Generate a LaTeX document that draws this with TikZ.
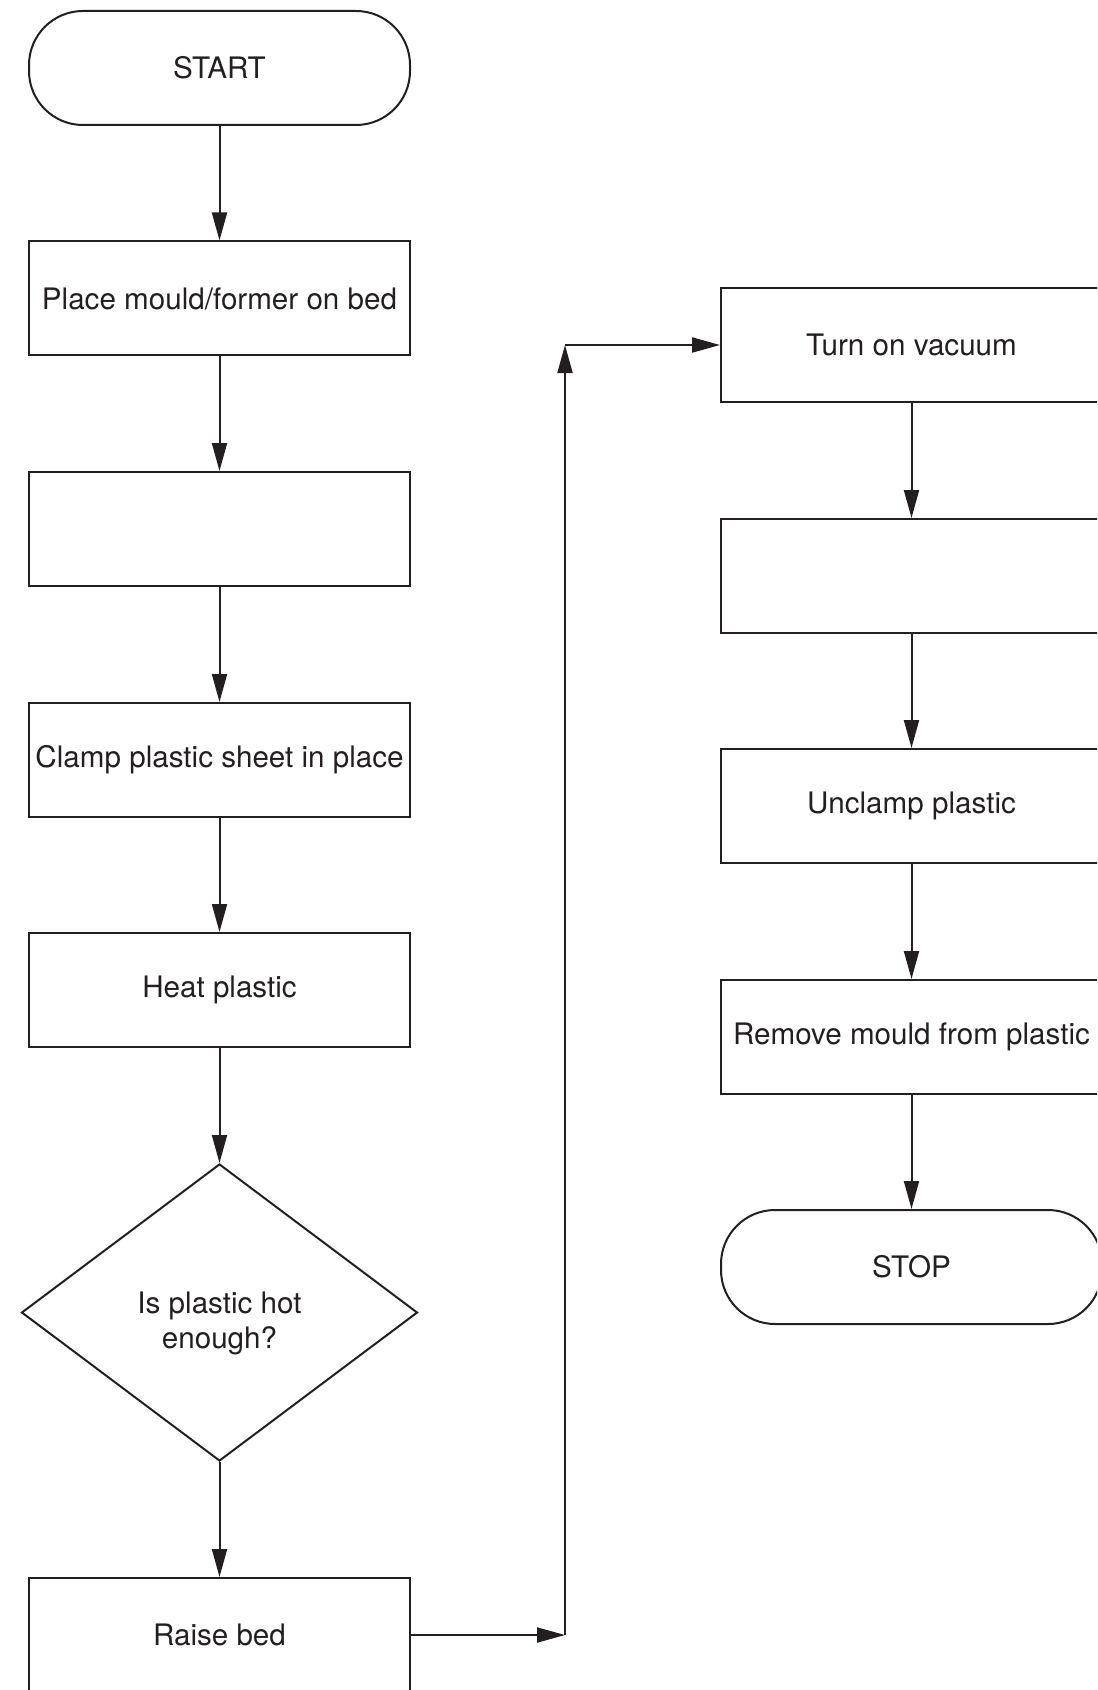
\documentclass[tikz,border=0pt]{standalone}
\usepackage{fontspec}
\setmainfont{TeX Gyre Heros}
\usepackage{xcolor}
\usetikzlibrary{arrows.meta,shapes.geometric}

\definecolor{ink}{HTML}{231F20}

\tikzset{
  label text/.style={text=ink, inner sep=0pt, align=center, font=\fontsize{14.8pt}{17.8pt}\selectfont},
  box/.style={label text, draw=ink, line width=1pt, minimum width=190.5pt, minimum height=57pt},
  term/.style={box, rounded corners=27pt},
  decision/.style={draw=ink, line width=1pt, diamond, aspect=1.33, minimum width=198pt,
    minimum height=148.5pt, inner sep=0pt},
  flow/.style={draw=ink, line width=1pt, -{Triangle[length=14pt,width=7.5pt]}}
}

\begin{document}
\begin{tikzpicture}[x=0.5pt,y=-0.5pt]
\clip (0,0) rectangle (1097,1690);

% left column
\node[term] (start) at (219.5,68) {START};
\node[box] (place) at (219.5,298.5) {Place mould/former on bed};
\node[box] (blankA) at (219.5,529) {};
\node[box] (clamp) at (219.5,760) {Clamp plastic sheet in place};
\node[box] (heat) at (219.5,990) {Heat plastic};
\node[decision] (hot) at (219.5,1312.5) {};
\node[label text] (hotText) at ([yshift=-5.5pt]hot.center) {Is plastic hot\\enough?};
\node[box] (raise) at (219.5,1635) {Raise bed};

% right column
\node[box] (vacuum) at (911.5,345) {Turn on vacuum};
\node[box] (blankB) at (911.5,576) {};
\node[box] (unclamp) at (911.5,806) {Unclamp plastic};
\node[box] (remove) at (911.5,1037) {Remove mould from plastic};
\node[term] (stop) at (911.5,1267) {STOP};

% bend points of the link between the columns
\coordinate (jb) at (565,1635);
\coordinate (jt) at (565,345);

\draw[flow] (start) -- (place);
\draw[flow] (place) -- (blankA);
\draw[flow] (blankA) -- (clamp);
\draw[flow] (clamp) -- (heat);
\draw[flow] (heat) -- (hot);
\draw[flow] (hot) -- (raise);
\draw[flow] (raise.east) -- (jb);
\draw[flow] (jb) -- (jt);
\draw[flow] (jt) -- (vacuum.west);
\draw[flow] (vacuum) -- (blankB);
\draw[flow] (blankB) -- (unclamp);
\draw[flow] (unclamp) -- (remove);
\draw[flow] (remove) -- (stop);
\end{tikzpicture}
\end{document}
